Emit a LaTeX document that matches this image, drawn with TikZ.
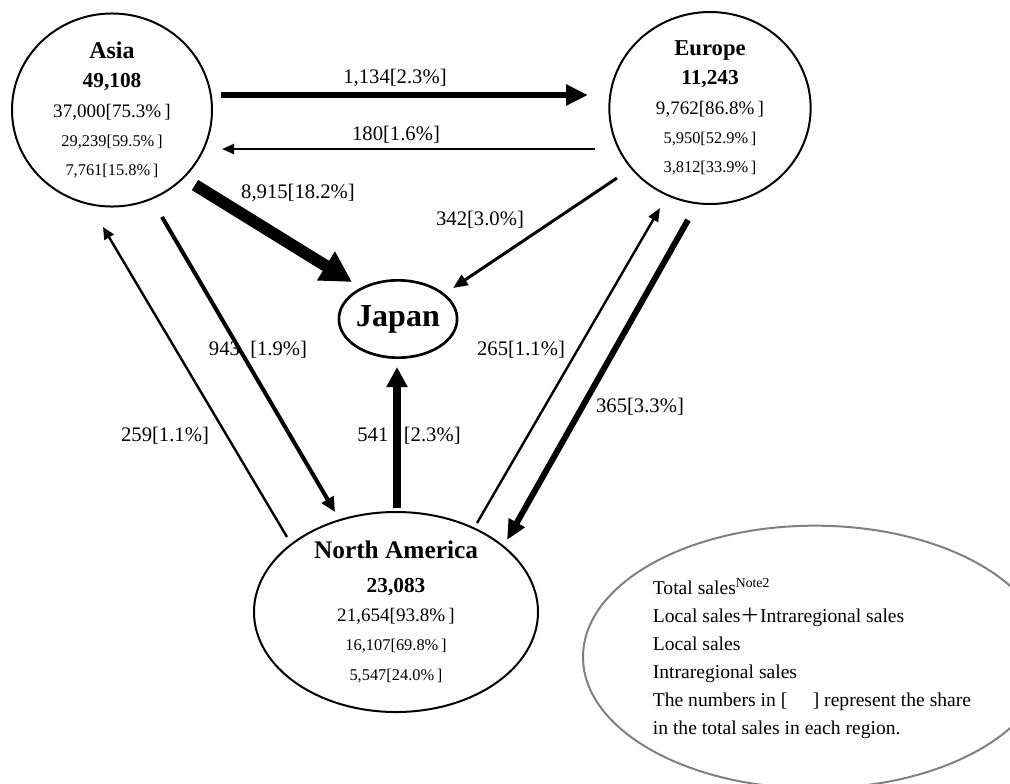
\documentclass[tikz,border=0pt]{standalone}
\usepackage{fontspec}
\setmainfont{Liberation Serif}
\newfontfamily\cjk{Noto Sans CJK JP}
\usetikzlibrary{arrows.meta,calc,shapes.geometric}
\newcommand\fsz[1]{\fontsize{#1}{22}\selectfont}

\begin{document}
\begin{tikzpicture}[x=0.75pt,y=-0.75pt,
  region/.style={draw,ellipse,line width=1.5pt,inner sep=0pt,align=center,font=\fsz{12}},
  flow/.style n args={3}{line width=#1,-{Triangle[length=#2,width=#3]}},
  lbl/.style={font=\fontsize{15.5}{18}\selectfont}]
  \useasboundingbox (0,0) rectangle (1010,783);

  % regions
  \node[region,minimum width=150pt,minimum height=144pt] (asia) at (112,110)
    {{\fsz{18}\bfseries Asia}\\ {\fsz{16}\bfseries 49,108}\\ {\fsz{14.3}37,000[75.3\%\,]}\\
     {\fsz{12.3}29,239[59.5\%\,]}\\ {\fsz{12.3}7,761[15.8\%\,]}};
  \node[region,minimum width=151pt,minimum height=144pt] (europe) at (710,108)
    {{\fsz{17}\bfseries Europe}\\ {\fsz{16}\bfseries 11,243}\\ {\fsz{14.3}9,762[86.8\%\,]}\\
     {\fsz{12.3}5,950[52.9\%\,]}\\ {\fsz{12.3}3,812[33.9\%\,]}};
  \node[region,line width=2pt,minimum width=85pt,minimum height=58pt,font=\fsz{24}\bfseries] (japan) at (398,319) {Japan};
  \node[region,minimum width=213pt,minimum height=138pt] (na) at (396,612)
    {{\fsz{19}\bfseries North America}\\[3pt] {\fsz{16}\bfseries 23,083}\\ {\fsz{14.3}21,654[93.8\%\,]}\\
     {\fsz{12.3}16,107[69.8\%\,]}\\ {\fsz{12.3}5,547[24.0\%\,]}};

  % legend
  \node[draw=gray,ellipse,line width=1.5pt,minimum width=348pt,minimum height=197pt] (legend) at (815,657) {};
  \node[align=left,font=\fontsize{14.7}{21}\selectfont] (legendtext) at (812,659)
    {Total sales\textsuperscript{Note2}\\
     Local sales{\cjk ＋}Intraregional sales\\
     Local sales\\
     Intraregional sales\\
     The numbers in [\hspace{1.3em}] represent the share\\
     in the total sales in each region.};

  % flows
  \draw[flow={5pt}{16.5pt}{15pt}] ($(asia)+(109,-15)$) -- ($(europe)+(-122,-13)$);
  \draw[flow={1.5pt}{9pt}{7.5pt}] ($(europe)+(-115,41)$) -- ($(asia)+(110,39)$);
  \draw[flow={9pt}{23pt}{24pt}] ($(asia)+(83,75)$) -- ($(japan)+(-46,-37)$);
  \draw[flow={2.25pt}{11pt}{9pt}] ($(europe)+(-93,70)$) -- ($(japan)+(55,-31)$);
  \draw[flow={3pt}{11pt}{10pt}] ($(asia)+(50,107)$) -- ($(na)+(-61,-100)$);
  \draw[flow={1.8pt}{9pt}{8pt}] ($(na)+(-109,-75)$) -- ($(asia)+(-9,117)$);
  \draw[flow={6pt}{15pt}{15pt}] ($(na)+(1,-104)$) -- ($(japan)+(-1,48)$);
  \draw[flow={1.8pt}{10pt}{8pt}] ($(na)+(81,-89)$) -- ($(europe)+(-50,100)$);
  \draw[flow={4.5pt}{15pt}{13pt}] ($(europe)+(-22,112)$) -- ($(na)+(111,-72)$);

  % flow labels
  \node[lbl] (l-ae) at (395,78) {1,134[2.3\%]};
  \node[lbl] (l-ea) at (396,135) {180[1.6\%]};
  \node[lbl] (l-aj) at (298,193) {8,915[18.2\%]};
  \node[lbl] (l-ej) at (480,220) {342[3.0\%]};
  \node[lbl] (l-an) at (258,350) {943~~[1.9\%]};
  \node[lbl] (l-na) at (165,436) {259[1.1\%]};
  \node[lbl] (l-nj) at (409,436) {541~~~[2.3\%]};
  \node[lbl] (l-ne) at (521,350) {265[1.1\%]};
  \node[lbl] (l-en) at (640,407) {365[3.3\%]};
\end{tikzpicture}
\end{document}
